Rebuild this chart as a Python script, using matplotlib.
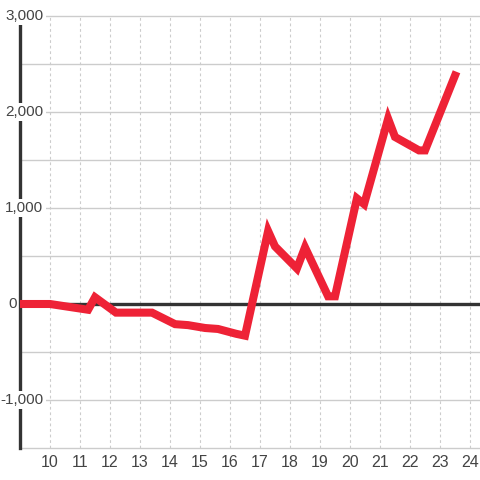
import matplotlib
matplotlib.use("Agg")
import matplotlib.pyplot as plt
import matplotlib.transforms as mtransforms

# series
x_vals = [9.0, 10.0, 11.27, 11.5, 12.2, 13.4, 14.17, 14.6, 15.17, 15.6, 16.2, 16.5,
          17.27, 17.5, 18.23, 18.5, 19.27, 19.5, 20.23, 20.47, 21.27, 21.5, 22.3, 22.5, 23.5]
y_vals = [0, 0, -60, 70, -90, -90, -210, -220, -250, -260, -310, -330,
          760, 600, 370, 590, 80, 80, 1100, 1040, 1930, 1740, 1600, 1600, 2380]

x_ticks = list(range(10, 25))
y_label_vals = [-1000, 0, 1000, 2000, 3000]
y_grid_vals = [-1500, -1000, -500, 0, 500, 1000, 1500, 2000, 2500, 3000]

RED = "#ee2236"
DARK = "#333333"
GRID = "#cccccc"
TEXT = "#444444"

plt.rcParams["font.family"] = ["Liberation Sans", "DejaVu Sans"]

fig = plt.figure(figsize=(4.8, 4.8), dpi=100)
ax = fig.add_axes([20 / 480, 32 / 480, 460 / 480, 432 / 480])
ax.set_xlim(9, 24.333)
ax.set_ylim(-1500, 3000)

for s in ["top", "right", "bottom"]:
    ax.spines[s].set_visible(False)
ax.spines["left"].set_color(DARK)
ax.spines["left"].set_linewidth(2.4)
ax.spines["left"].set_zorder(3)

# grid
for v in y_grid_vals:
    if v != 0:
        ax.axhline(v, color=GRID, lw=1, zorder=1, clip_on=False)
for t in x_ticks:
    ax.axvline(t, color=GRID, lw=0.8, ls=(0, (2.5, 2.5)), zorder=1)
ax.axhline(0, color=DARK, lw=2.4, zorder=2)

ax.plot(x_vals, y_vals, color=RED, lw=5.8, solid_joinstyle="miter",
        solid_capstyle="projecting", zorder=4)

ax.set_xticks(x_ticks)
ax.set_xticklabels([str(t) for t in x_ticks], color=TEXT, fontsize=11.5)
ax.tick_params(axis="x", length=0, pad=5)
ax.set_yticks([])

# y labels sit over the spine with a white box behind them
trans = mtransforms.blended_transform_factory(fig.transFigure, ax.transData)
for v in y_label_vals:
    lab = "{:,}".format(v)
    if v == 0:
        ax.text(16.5 / 480, v, lab, transform=trans, ha="right", va="center",
                color=TEXT, fontsize=11, zorder=5)
    else:
        ax.text(43.5 / 480, v, lab, transform=trans, ha="right", va="center",
                color=TEXT, fontsize=11, zorder=5,
                bbox=dict(facecolor="white", edgecolor="none", pad=1.5))

fig.savefig("out.png", dpi=100, facecolor="white")
